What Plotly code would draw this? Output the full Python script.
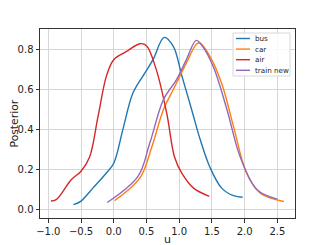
import plotly.graph_objects as go

bus_u = [-0.616, -0.5, -0.32, -0.115, 0.0, 0.14, 0.29, 0.45, 0.6, 0.77, 0.91, 1.04, 1.19, 1.32, 1.47, 1.65, 1.83, 1.97]
bus_v = [0.022, 0.04, 0.105, 0.18, 0.23, 0.40, 0.58, 0.67, 0.75, 0.862, 0.817, 0.67, 0.50, 0.35, 0.21, 0.105, 0.067, 0.059]

car_u = [0.013, 0.40, 0.58, 0.76, 0.91, 1.09, 1.27, 1.32, 1.47, 1.65, 1.83, 2.03, 2.24, 2.6]
car_v = [0.042, 0.156, 0.31, 0.50, 0.60, 0.72, 0.83, 0.833, 0.767, 0.63, 0.415, 0.18, 0.08, 0.038]

air_u = [-0.96, -0.88, -0.65, -0.5, -0.37, -0.24, -0.11, 0.0, 0.19, 0.40, 0.5, 0.65, 0.81, 0.93, 1.04, 1.22, 1.46]
air_v = [0.04, 0.047, 0.147, 0.19, 0.26, 0.465, 0.67, 0.75, 0.79, 0.83, 0.82, 0.70, 0.48, 0.26, 0.18, 0.105, 0.064]

train_u = [-0.1, 0.37, 0.55, 0.76, 0.96, 1.11, 1.26, 1.34, 1.52, 1.73, 1.93, 2.19, 2.5]
train_v = [0.033, 0.164, 0.33, 0.55, 0.65, 0.75, 0.847, 0.825, 0.716, 0.50, 0.264, 0.097, 0.05]

names = ["bus", "car", "air", "train new"]
colors = ["#1f77b4", "#ff7f0e", "#d62728", "#9467bd"]
us = [bus_u, car_u, air_u, train_u]
vs = [bus_v, car_v, air_v, train_v]

x_ticks = [-1.0, -0.5, 0.0, 0.5, 1.0, 1.5, 2.0, 2.5]
x_labels = ["\u22121.0", "\u22120.5", "0.0", "0.5", "1.0", "1.5", "2.0", "2.5"]
y_ticks = [0.0, 0.2, 0.4, 0.6, 0.8]
y_labels = ["0.0", "0.2", "0.4", "0.6", "0.8"]
x_title = "u"
y_title = "Posterior"

fig = go.Figure()
for name, u, v, c in zip(names, us, vs, colors):
    fig.add_trace(go.Scatter(x=u, y=v, name=name, mode="lines", showlegend=False,
                             line=dict(color=c, width=1.4, shape="spline", smoothing=1.0)))

# pixel -> paper helpers (plot area 40..295 x 29..218)
L, T, R, B = 40, 29, 295, 218
W, H = float(R - L), float(B - T)
def px(xp):
    return (xp - L) / W
def py(yp):
    return (B - yp) / H

# Compact matplotlib-style legend
shapes = [dict(type="rect", xref="paper", yref="paper",
               x0=px(233), x1=px(290), y0=py(76), y1=py(33),
               fillcolor="rgba(255,255,255,0.85)", line=dict(color="#d8d8d8", width=1), layer="above")]
annotations = []
for i, (name, c) in enumerate(zip(names, colors)):
    yrow = 38.5 + i * 10.6
    shapes.append(dict(type="line", xref="paper", yref="paper",
                       x0=px(236), x1=px(250), y0=py(yrow), y1=py(yrow),
                       line=dict(color=c, width=1.4), layer="above"))
    annotations.append(dict(xref="paper", yref="paper", x=px(253), y=py(yrow),
                            xanchor="left", yanchor="middle", text=name, showarrow=False,
                            font=dict(family="DejaVu Sans", size=7.2, color="#222222")))

# axis titles
annotations.append(dict(xref="paper", yref="paper", x=px(167), y=py(239),
                        xanchor="center", yanchor="middle", text=x_title, showarrow=False,
                        font=dict(family="DejaVu Sans", size=11, color="#222222")))
annotations.append(dict(xref="paper", yref="paper", x=px(13.5), y=py(124),
                        xanchor="center", yanchor="middle", text=y_title, showarrow=False,
                        textangle=-90,
                        font=dict(family="DejaVu Sans", size=10.8, color="#222222")))

axis_common = dict(showgrid=True, gridcolor="#d6d6d6", gridwidth=1.2,
                   showline=True, linecolor="#333333", linewidth=1, mirror=True,
                   ticks="outside", ticklen=3.5, tickcolor="#333333", zeroline=False,
                   automargin=False,
                   tickfont=dict(family="DejaVu Sans", size=10, color="#222222"))

fig.update_layout(
    width=327, height=245,
    margin=dict(l=L, r=327 - R, t=T, b=245 - B),
    paper_bgcolor="white", plot_bgcolor="white",
    showlegend=False,
    shapes=shapes, annotations=annotations,
    xaxis=dict(range=[-1.127, 2.770], tickvals=x_ticks, ticktext=x_labels, **axis_common),
    yaxis=dict(range=[-0.045, 0.904], tickvals=y_ticks, ticktext=y_labels, **axis_common),
)

fig.write_html("out.html", config={"displayModeBar": False},
               post_script="document.body.style.margin='0';document.body.style.padding='0';")
